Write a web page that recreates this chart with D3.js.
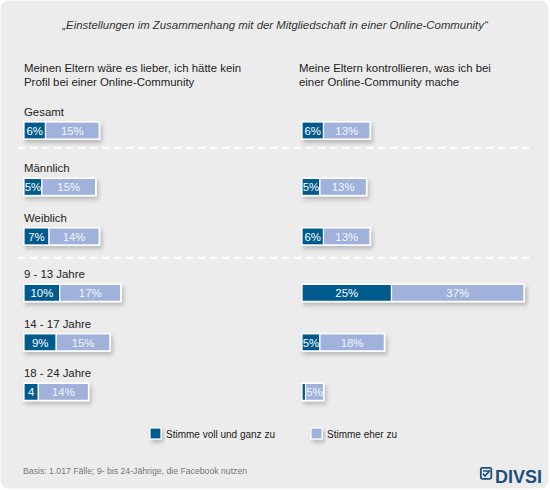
<!DOCTYPE html>
<html>
<head>
<meta charset="utf-8">
<script src="https://cdn.jsdelivr.net/npm/d3@7"></script>
<style>
  body { margin: 0; background: #fff; }
  text { font-family: "Liberation Sans", Arial, sans-serif; }
</style>
</head>
<body>
<div id="chart"></div>
<script>
// chart values
const rows = ["Gesamt", "Männlich", "Weiblich", "9 - 13 Jahre", "14 - 17 Jahre", "18 - 24 Jahre"];
const groups = [0, 1, 1, 2, 2, 2];
const leftFull = [6, 5, 7, 10, 9, 4];
const leftRather = [15, 15, 14, 17, 15, 14];
const rightFull = [6, 5, 6, 25, 5, 1];
const rightRather = [13, 13, 13, 37, 18, 5];
const columnTitles = [
  ["Meinen Eltern wäre es lieber, ich hätte kein", "Profil bei einer Online-Community"],
  ["Meine Eltern kontrollieren, was ich bei", "einer Online-Community mache"]
];
const legendLabels = ["Stimme voll und ganz zu", "Stimme eher zu"];

const width = 550, height = 490;
const dark = "#005a8c", light = "#a0b2db";
const barH = 17;
const colX = [24, 302];
const fs = "11.4px";

const svg = d3.select("#chart").append("svg")
  .attr("width", width)
  .attr("height", height);

const defs = svg.append("defs");
defs.append("filter").attr("id", "shadow")
  .attr("x", "-20%").attr("y", "-40%").attr("width", "150%").attr("height", "200%")
  .append("feDropShadow")
  .attr("dx", 2).attr("dy", 3).attr("stdDeviation", 2.2)
  .attr("flood-color", "#000").attr("flood-opacity", 0.22);

// background panel
svg.append("rect")
  .attr("x", 0.5).attr("y", 0.5)
  .attr("width", width - 2).attr("height", height - 2)
  .attr("rx", 8)
  .attr("fill", "#ececec");

// title
svg.append("text")
  .attr("x", width / 2).attr("y", 29)
  .attr("text-anchor", "middle")
  .style("font-size", fs).style("font-style", "italic")
  .attr("fill", "#333")
  .text("„Einstellungen im Zusammenhang mit der Mitgliedschaft in einer Online-Community“");

// column titles
columnTitles.forEach((lines, c) => {
  const tx = colX[c] - (c ? 3 : 0);
  const t = svg.append("text")
    .attr("x", tx).attr("y", 72)
    .style("font-size", fs).attr("fill", "#222");
  lines.forEach((l, i) => t.append("tspan")
    .attr("x", tx).attr("dy", i ? 13.5 : 0).text(l));
});

// scales
const x = d3.scaleLinear().domain([0, 100]).range([0, 358]);
const slot = rows.map((d, i) => i + groups[i] * 0.14);
const y = d3.scaleLinear().domain([0, 1]).range([122, 171.5]);
const dividers = [0.52, 2.74];

// dashed separators
svg.selectAll("line.sep").data(dividers).join("line")
  .attr("class", "sep")
  .attr("x1", 18).attr("x2", 533)
  .attr("y1", d => y(d)).attr("y2", d => y(d))
  .attr("stroke", "#fff").attr("stroke-width", 2)
  .attr("stroke-dasharray", "7,5");

// row labels
svg.selectAll("text.row").data(rows).join("text")
  .attr("class", "row")
  .attr("x", colX[0]).attr("y", (d, i) => y(slot[i]) - 6)
  .style("font-size", fs).attr("fill", "#222")
  .text(d => d);

function fit(sel, w) {
  sel.each(function () {
    const t = d3.select(this);
    let s = t.text();
    while (s.length && this.getComputedTextLength() > w) {
      s = s.slice(0, -1);
      t.text(s);
    }
  });
}

const columns = [[leftFull, leftRather], [rightFull, rightRather]];
columns.forEach((series, c) => {
  rows.forEach((r, i) => {
    const g = svg.append("g")
      .attr("transform", `translate(${colX[c]},${y(slot[i])})`);
    const segs = [
      { v: series[0][i], x0: 0, color: dark, tc: "#fff" },
      { v: series[1][i], x0: series[0][i], color: light, tc: "#f2f5fb" }
    ];
    g.append("rect")
      .attr("x", -1).attr("y", -1)
      .attr("width", x(segs[0].v + segs[1].v) + 2).attr("height", barH + 2)
      .attr("fill", "#fff")
      .attr("filter", "url(#shadow)");
    segs.forEach(s => {
      g.append("rect")
        .attr("x", x(s.x0)).attr("y", 0)
        .attr("width", x(s.v)).attr("height", barH)
        .attr("fill", s.color)
        .attr("stroke", "#fff").attr("stroke-width", 1.2);
      g.append("text")
        .attr("x", x(s.x0) + x(s.v) / 2).attr("y", barH / 2 + 4.3)
        .attr("text-anchor", "middle")
        .style("font-size", fs)
        .attr("fill", s.tc)
        .text(s.v + "%")
        .call(fit, x(s.v) + 0.5);
    });
  });
});

// legend
const legX = [150, 311];
legendLabels.forEach((l, i) => {
  svg.append("rect")
    .attr("x", legX[i]).attr("y", 428)
    .attr("width", 11).attr("height", 11)
    .attr("fill", i ? light : dark)
    .attr("stroke", "#fff").attr("stroke-width", 1.2)
    .attr("filter", "url(#shadow)");
  svg.append("text")
    .attr("x", legX[i] + 16).attr("y", 437.5)
    .style("font-size", "10px").attr("fill", "#222")
    .text(l);
});

// footnote
svg.append("text")
  .attr("x", 23).attr("y", 474)
  .style("font-size", "8.7px").attr("fill", "#777")
  .text("Basis: 1.017 Fälle; 9- bis 24-Jährige, die Facebook nutzen");

// logo
const logo = svg.append("g").attr("transform", "translate(480,467)");
logo.append("rect")
  .attr("x", 0.8).attr("y", 0.8).attr("width", 10.5).attr("height", 11)
  .attr("rx", 1.5)
  .attr("fill", "none").attr("stroke", "#1d4f7c").attr("stroke-width", 1.8);
logo.append("path")
  .attr("d", "M3,4 L9,4 M3,6.5 L5,9 L10,3.5")
  .attr("fill", "none").attr("stroke", "#1d4f7c").attr("stroke-width", 1.6);
svg.append("text")
  .attr("x", 495).attr("y", 483)
  .style("font-size", "18px").style("font-weight", "bold")
  .attr("fill", "#1d4f7c")
  .text("DIVSI");
</script>
</body>
</html>
